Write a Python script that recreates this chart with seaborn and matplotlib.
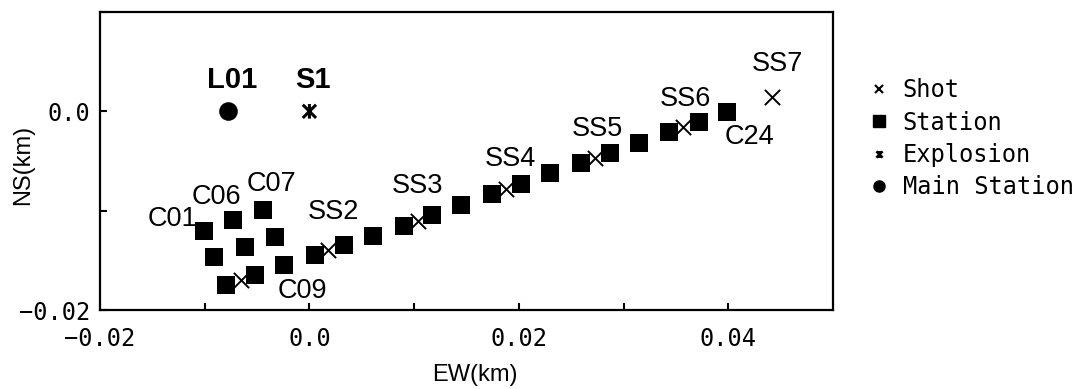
"""
plot.py - station / shot layout map (EW vs NS offsets)
"""
import numpy as np
import matplotlib
matplotlib.use('Agg')
import matplotlib.pyplot as plt
from matplotlib.path import Path
from matplotlib.lines import Line2D
import pandas as pd
import seaborn as sns

# --- data (km) ---
station_x = [-0.0101, -0.0091, -0.0080, -0.0052, -0.0062, -0.0073, -0.0044, -0.0033,
             -0.0024, 0.0005, 0.0033, 0.0061, 0.0090, 0.0117, 0.0145, 0.0174,
             0.0202, 0.0230, 0.0259, 0.0287, 0.0315, 0.0343, 0.0372, 0.0399]
station_y = [-0.0120, -0.0147, -0.0175, -0.0165, -0.0137, -0.0109, -0.0099, -0.0127,
             -0.0155, -0.0145, -0.0135, -0.0125, -0.0115, -0.0104, -0.0094, -0.0083,
             -0.0073, -0.0062, -0.0052, -0.0042, -0.0032, -0.0021, -0.0011, -0.0001]
station_names = ['C%02d' % i for i in range(1, 25)]
shot_x = [-0.0065, 0.0018, 0.0104, 0.0188, 0.0273, 0.0357, 0.0442]
shot_y = [-0.0170, -0.0140, -0.0110, -0.0078, -0.0047, -0.0016, 0.0014]
shot_names = ['', 'SS2', 'SS3', 'SS4', 'SS5', 'SS6', 'SS7']
explosion_x = [0.0]
explosion_y = [0.0]
main_x = [-0.0078]
main_y = [0.0]

xtick_vals = [-0.02, -0.01, 0.0, 0.01, 0.02, 0.03, 0.04]
xtick_labels = ['\u22120.02', '', '0.0', '', '0.02', '', '0.04']
ytick_vals = [-0.02, -0.01, 0.0, 0.01]
ytick_labels = ['\u22120.02', '', '0.0', '']

# which stations get a label, and where the text sits (offset in px)
station_labels = {'C01': (-6, 12, 'right'), 'C06': (-17, 23, 'center'),
                  'C07': (8, 26, 'center'), 'C09': (18, -26, 'center'),
                  'C24': (22, -25, 'center')}
shot_offsets = [(0, 0), (5, 38), (-1, 35), (4, 30), (2, 29), (2, 28), (5, 33)]

sns.set_style('ticks')
plt.rcParams['font.family'] = ['Liberation Sans', 'DejaVu Sans']
for key in ['text.color', 'axes.labelcolor', 'xtick.color', 'ytick.color']:
    plt.rcParams[key] = 'black'

stations = pd.DataFrame({'x': station_x, 'y': station_y, 'name': station_names})
shots = pd.DataFrame({'x': shot_x, 'y': shot_y, 'name': shot_names})

# x with a vertical bar through it
explosion_marker = Path([(-1, -1), (1, 1), (-1, 1), (1, -1), (0, -1.1), (0, 1.1)],
                        [Path.MOVETO, Path.LINETO, Path.MOVETO, Path.LINETO,
                         Path.MOVETO, Path.LINETO])

fig = plt.figure(figsize=(10.73, 3.89), dpi=100)
ax = fig.add_axes([100 / 1073, 79 / 389, 733 / 1073, 298 / 389])

sns.scatterplot(data=stations, x='x', y='y', marker='s', s=160, color='black',
                edgecolor='black', linewidth=0, ax=ax, legend=False, zorder=3)
sns.scatterplot(data=shots, x='x', y='y', marker='x', s=120, color='black',
                linewidth=1.4, ax=ax, legend=False, zorder=4)
sns.scatterplot(x=explosion_x, y=explosion_y, marker=explosion_marker, s=110,
                facecolor='none', edgecolor='black', linewidth=2.2, ax=ax,
                legend=False, zorder=4)
sns.scatterplot(x=main_x, y=main_y, marker='o', s=180, color='black',
                edgecolor='black', linewidth=0, ax=ax, legend=False, zorder=4)

px = 0.72  # pixel -> point at dpi 100
for _, r in stations.iterrows():
    if r['name'] in station_labels:
        dx, dy, ha = station_labels[r['name']]
        ax.annotate(r['name'], (r['x'], r['y']), xytext=(dx * px, dy * px),
                    textcoords='offset points', ha=ha, va='center', fontsize=19.5)
for (_, r), (dx, dy) in zip(shots.iterrows(), shot_offsets):
    if r['name']:
        ax.annotate(r['name'], (r['x'], r['y']), xytext=(dx * px, dy * px),
                    textcoords='offset points', ha='center', va='center', fontsize=19.5)
ax.annotate('L01', (main_x[0], main_y[0]), xytext=(4 * px, 31 * px),
            textcoords='offset points', ha='center', va='center',
            fontsize=21, fontweight='bold')
ax.annotate('S1', (explosion_x[0], explosion_y[0]), xytext=(4 * px, 31 * px),
            textcoords='offset points', ha='center', va='center',
            fontsize=21, fontweight='bold')

ax.set_xlim(-0.02, 0.05)
ax.set_ylim(-0.02, 0.01)
ax.set_xticks(xtick_vals)
ax.set_xticklabels(xtick_labels, family=['DejaVu Sans Mono'], fontsize=17)
ax.set_yticks(ytick_vals)
ax.set_yticklabels(ytick_labels, family=['DejaVu Sans Mono'], fontsize=17)
ax.tick_params(axis='x', direction='in', length=5, width=1.5, pad=12, top=False)
ax.tick_params(axis='y', direction='in', length=5, width=1.5, pad=7, right=False)
for sp in ax.spines.values():
    sp.set_visible(True)
    sp.set_linewidth(1.6)
    sp.set_color('black')

ax.set_xlabel('EW(km)', fontsize=17)
ax.set_ylabel('NS(km)', fontsize=17)
ax.xaxis.set_label_coords((475 - 100) / 733, -(375 - 310) / 298)
ax.xaxis.label.set_va('center')
ax.yaxis.set_label_coords(-(100 - 23) / 733, (310 - 165) / 298)
ax.yaxis.label.set_va('center')

handles = [
    Line2D([], [], ls='none', marker='x', color='black', markersize=6, markeredgewidth=1.5),
    Line2D([], [], ls='none', marker='s', color='black', markersize=8),
    Line2D([], [], ls='none', marker=explosion_marker, color='black', markersize=5,
           markeredgewidth=1.8, fillstyle='none'),
    Line2D([], [], ls='none', marker='o', color='black', markersize=8),
]
fig.legend(handles, ['Shot', 'Station', 'Explosion', 'Main Station'],
           loc='upper left', bbox_to_anchor=(872 / 1073, 1 - 78 / 389),
           frameon=False, borderpad=0, borderaxespad=0, handlelength=0.6,
           handletextpad=0.7, labelspacing=0.36,
           prop={'family': 'DejaVu Sans Mono', 'size': 17})

fig.savefig('out.png', dpi=100)
